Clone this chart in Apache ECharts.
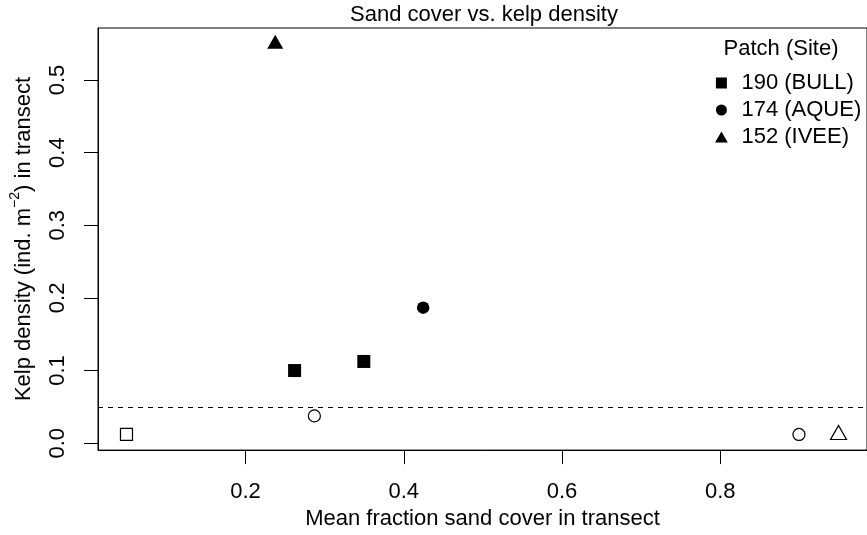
<!DOCTYPE html>
<html>
<head>
<meta charset="utf-8">
<script src="https://cdn.jsdelivr.net/npm/echarts@6/dist/echarts.min.js"></script>
<style>
html,body{margin:0;padding:0;background:#fff;}
#chart{width:867px;height:535px;}
</style>
</head>
<body>
<div id="chart"></div>
<script>
// ---- data ----
const xTicks = [0.2, 0.4, 0.6, 0.8];
const yTicks = [0.0, 0.1, 0.2, 0.3, 0.4, 0.5];
const siteNames = ['190 (BULL)', '174 (AQUE)', '152 (IVEE)'];
const bullX = [0.262, 0.3495];
const bullY = [0.100, 0.1125];
const bullLowX = [0.0495];
const bullLowY = [0.012];
const aqueX = [0.4245];
const aqueY = [0.1865];
const aqueLowX = [0.287, 0.8995];
const aqueLowY = [0.0375, 0.012];
const iveeX = [0.2375];
const iveeY = [0.55];
const iveeLowX = [0.9495];
const iveeLowY = [0.012];
const threshold = 0.05;

// ---- helpers ----
const zip = (xs, ys) => xs.map((x, i) => [x, ys[i]]);
const allX = [].concat(bullX, bullLowX, aqueX, aqueLowX, iveeX, iveeLowX);
const allY = [].concat(bullY, bullLowY, aqueY, aqueLowY, iveeY, iveeLowY);
function rRange(v) { // R-style 4% axis extension
  const lo = Math.min.apply(null, v), hi = Math.max.apply(null, v);
  const pad = (hi - lo) * 0.04;
  return [lo - pad, hi + pad];
}
const xr = rRange(allX), yr = rRange(allY);

const FONT = "'Liberation Sans', Arial, Helvetica, sans-serif";
const squarePath = 'path://M0,0L10,0L10,10L0,10Z';
const triPath = 'path://M7,0L14,12L0,12Z';

const filled = { color: '#000', borderColor: '#000', borderWidth: 0, opacity: 1 };
const open = { color: '#fff', borderColor: '#000', borderWidth: 1.2, opacity: 1 };

const chart = echarts.init(document.getElementById('chart'), null, { renderer: 'canvas' });
chart.setOption({
  animation: false,
  backgroundColor: '#fff',
  textStyle: { fontFamily: FONT },
  title: [
    { text: 'Sand cover vs. kelp density', left: 484, top: 4, textAlign: 'center', padding: 0,
      textStyle: { fontFamily: FONT, fontSize: 22, fontWeight: 'normal', color: '#000', lineHeight: 22 } },
    { text: 'Patch (Site)', left: 781, top: 38, textAlign: 'center', padding: 0,
      textStyle: { fontFamily: FONT, fontSize: 22, fontWeight: 'normal', color: '#000', lineHeight: 22 } }
  ],
  legend: {
    orient: 'vertical', left: 715, top: 72, padding: 0, itemGap: 5,
    itemWidth: 30, itemHeight: 11, selectedMode: false,
    textStyle: { fontFamily: FONT, fontSize: 22, color: '#000', lineHeight: 22 },
    data: [
      { name: siteNames[0], icon: squarePath, itemStyle: { opacity: 1 } },
      { name: siteNames[1], icon: 'circle', itemStyle: { opacity: 1 } },
      { name: siteNames[2], icon: triPath, itemStyle: { opacity: 1 } }
    ]
  },
  grid: { left: 96, top: 28, bottom: 81, right: -6, show: true, borderColor: '#000', borderWidth: 1, backgroundColor: 'transparent' },
  xAxis: {
    type: 'value', min: xr[0], max: xr[1],
    name: 'Mean fraction sand cover in transect', nameLocation: 'middle', nameGap: 56,
    nameTextStyle: { fontFamily: FONT, fontSize: 22, color: '#000', lineHeight: 22 },
    axisLine: { show: true, onZero: false, lineStyle: { color: '#000', width: 1 } },
    axisTick: { show: true, customValues: xTicks, length: 14, inside: false, lineStyle: { color: '#000', width: 1 } },
    axisLabel: { customValues: xTicks, margin: 31, fontFamily: FONT, fontSize: 22, color: '#000', lineHeight: 22,
      formatter: v => v.toFixed(1) },
    splitLine: { show: false }
  },
  yAxis: {
    type: 'value', min: yr[0], max: yr[1],
    name: '{n|Kelp density (ind. m}{s|−2}{n|) in transect}', nameLocation: 'middle', nameGap: 58,
    nameTextStyle: { fontFamily: FONT, fontSize: 22, color: '#000',
      rich: {
        n: { fontFamily: FONT, fontSize: 22, color: '#000', lineHeight: 32, verticalAlign: 'middle' },
        s: { fontFamily: FONT, fontSize: 14, color: '#000', lineHeight: 14, verticalAlign: 'top' }
      } },
    axisLine: { show: true, onZero: false, lineStyle: { color: '#000', width: 1 } },
    axisTick: { show: true, customValues: yTicks, length: 14, inside: false, lineStyle: { color: '#000', width: 1 } },
    axisLabel: { customValues: yTicks, rotate: 90, margin: 29, fontFamily: FONT, fontSize: 22, color: '#000', lineHeight: 22,
      formatter: v => v.toFixed(1) },
    splitLine: { show: false }
  },
  series: [
    { name: siteNames[0], type: 'scatter', data: zip(bullX, bullY), symbol: 'rect', symbolSize: 13,
      itemStyle: filled, emphasis: { disabled: true }, z: 3,
      markLine: { silent: true, symbol: 'none', label: { show: false },
        lineStyle: { color: '#000', width: 1, type: [5, 5], opacity: 1 }, data: [{ yAxis: threshold }] } },
    { name: siteNames[0] + ' low', type: 'scatter', data: zip(bullLowX, bullLowY), symbol: 'rect', symbolSize: 12,
      itemStyle: open, emphasis: { disabled: true } },
    { name: siteNames[1], type: 'scatter', data: zip(aqueX, aqueY), symbol: 'circle', symbolSize: 12.5,
      itemStyle: filled, emphasis: { disabled: true } },
    { name: siteNames[1] + ' low', type: 'scatter', data: zip(aqueLowX, aqueLowY), symbol: 'circle', symbolSize: 12,
      itemStyle: open, emphasis: { disabled: true } },
    { name: siteNames[2], type: 'scatter', data: zip(iveeX, iveeY), symbol: 'triangle', symbolSize: [16, 14],
      symbolOffset: [0, -2], itemStyle: filled, emphasis: { disabled: true } },
    { name: siteNames[2] + ' low', type: 'scatter', data: zip(iveeLowX, iveeLowY), symbol: 'triangle', symbolSize: [16, 14],
      symbolOffset: [0, -2], itemStyle: open, emphasis: { disabled: true } }
  ]
});
</script>
</body>
</html>
